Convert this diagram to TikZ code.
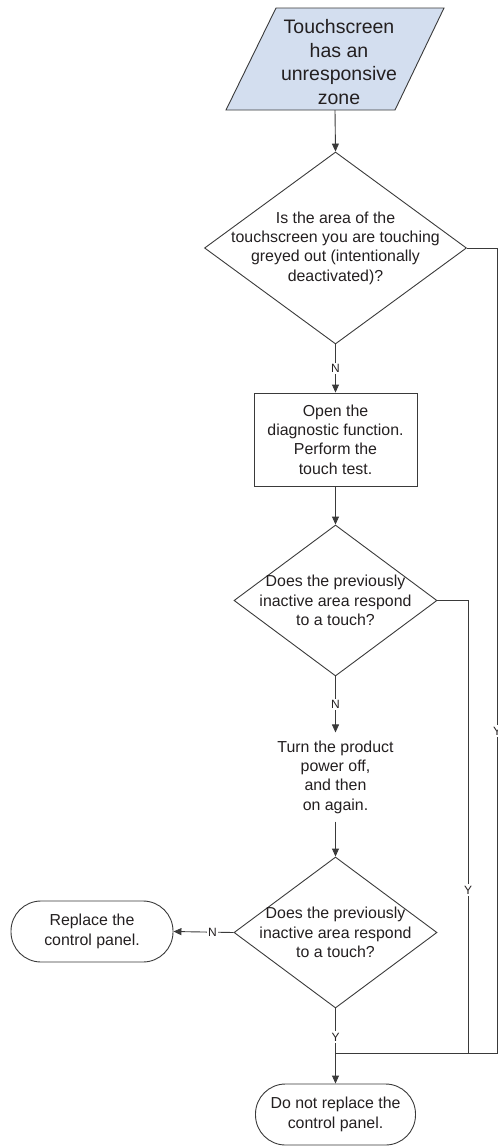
\documentclass[tikz,border=0pt]{standalone}
\usepackage{fontspec}
\setmainfont{Liberation Sans}
\usetikzlibrary{shapes.geometric,arrows.meta}
\definecolor{ln}{HTML}{3A3A3A}
\definecolor{tx}{HTML}{231F20}
\definecolor{para}{HTML}{D3DEEF}
\begin{document}
\begin{tikzpicture}[x=1pt,y=-1pt,
  every node/.style={text=tx},
  line/.style={draw=ln, line width=0.9pt},
  arr/.style={line, -{Triangle[length=8pt,width=7pt]}},
  txt/.style={align=center, font=\fontsize{15.9}{19.3}\selectfont, inner sep=0pt},
  dia/.style={diamond, line, inner sep=0pt},
  lab/.style={fill=white, inner sep=1.5pt, font=\fontsize{12}{14}\selectfont},
  term/.style={rectangle, line, rounded corners=30pt, align=center, inner sep=0pt,
     font=\fontsize{15.9}{19.3}\selectfont, minimum height=61pt},
  procbox/.style={rectangle, line, align=center, inner sep=0pt,
     font=\fontsize{15.9}{19.3}\selectfont}
]
\useasboundingbox (0,0) rectangle (498,1146);

% start parallelogram
\fill[para] (276,8) -- (444,8) -- (395,110) -- (226,110) -- cycle;
\draw[line] (276,8) -- (444,8) -- (395,110) -- (226,110) -- cycle;
\node[minimum width=170pt, minimum height=102pt, inner sep=0pt] (start) at (335,59) {};
\node[align=center, inner sep=0pt, font=\fontsize{19.5}{23.8}\selectfont] (starttxt) at (339,62)
  {Touchscreen\\has an\\unresponsive\\zone};

% decision 1
\node[dia, minimum width=262pt, minimum height=192pt,
  label={[txt]center:{Is the area of the\\touchscreen you are touching\\greyed out (intentionally\\deactivated)?}}]
  (d1) at (335.5,248) {};

% process box
\node[procbox, minimum width=163pt, minimum height=93pt] (box) at (335.5,439.5)
  {Open the\\diagnostic function.\\Perform the\\touch test.};

% decision 2
\node[dia, minimum width=203pt, minimum height=151pt,
  label={[txt]center:{Does the previously\\inactive area respond\\to a touch?}}]
  (d2) at (335.5,600.5) {};

% power cycle text
\node[txt, inner ysep=8pt] (power) at (335.5,777)
  {Turn the product\\power off,\\and then\\on again.};

% decision 3
\node[dia, minimum width=203pt, minimum height=151pt,
  label={[txt]center:{Does the previously\\inactive area respond\\to a touch?}}]
  (d3) at (335.5,932.5) {};

% terminals
\node[term, minimum width=162pt] (rep) at (92,931.5) {Replace the\\control panel.};
\node[term, minimum width=160pt] (dn) at (335.5,1114.5) {Do not replace the\\control panel.};

% coordinates for merge
\coordinate (m) at (335.5,1053);
\coordinate (c1) at (497,1053);
\coordinate (c2) at (468,1053);

% connectors
\draw[arr] (start.south) -- (d1.north);
\draw[arr] (d1.south) -- node[lab]{N} (box.north);
\draw[arr] (box.south) -- (d2.north);
\draw[arr] (d2.south) -- node[lab]{N} (power.north);
\draw[arr] (power.south) -- (d3.north);
\draw[arr] (d3.west) -- node[lab, pos=0.35]{N} (rep.east);
\draw[arr] (d3.south) -- node[lab, pos=0.38]{Y} (dn.north);
\draw[line] (d1.east) -| node[lab, pos=0.8]{Y} (c1) -- (m);
\draw[line] (d2.east) -| node[lab, pos=0.82]{Y} (c2);
\end{tikzpicture}
\end{document}
